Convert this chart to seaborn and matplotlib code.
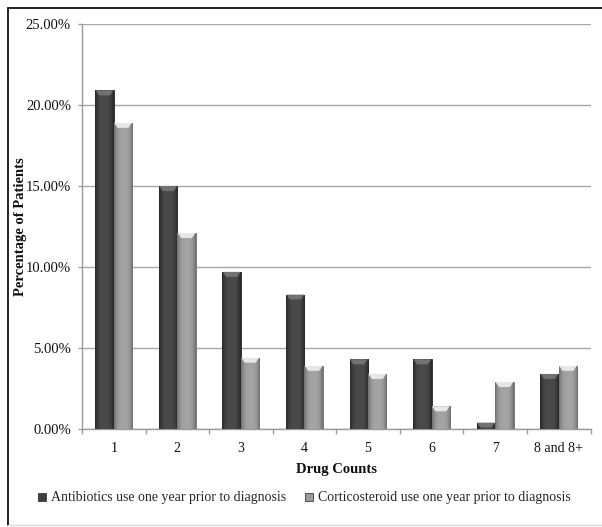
import numpy as np
import pandas as pd
import matplotlib
matplotlib.use("Agg")
import matplotlib.pyplot as plt
from matplotlib.colors import LinearSegmentedColormap
from matplotlib.patches import Polygon
from matplotlib.lines import Line2D
from matplotlib.ticker import FuncFormatter, MultipleLocator, FixedLocator
import seaborn as sns

categories = ["1", "2", "3", "4", "5", "6", "7", "8 and 8+"]
antibiotics = [20.9, 15.0, 9.7, 8.3, 4.3, 4.3, 0.4, 3.4]
corticosteroid = [18.9, 12.1, 4.4, 3.9, 3.4, 1.4, 2.9, 3.9]
series_names = ["Antibiotics use one year prior to diagnosis",
                "Corticosteroid use one year prior to diagnosis"]

df = pd.DataFrame({
    "Drug Counts": categories * 2,
    "value": antibiotics + corticosteroid,
    "series": [series_names[0]] * len(categories) + [series_names[1]] * len(categories),
})

sns.set_theme(style="white")
plt.rcParams["font.family"] = ["Liberation Serif", "DejaVu Serif"]

fig = plt.figure(figsize=(6.02, 5.27), dpi=100)
ax = fig.add_axes([82 / 602, 1 - 429 / 527, (590.5 - 82) / 602, (429 - 24) / 527])

base = {series_names[0]: "#3e3e3e", series_names[1]: "#9a9a9a"}
sns.barplot(data=df, x="Drug Counts", y="value", hue="series", order=categories,
            hue_order=series_names, palette=base, width=0.58, gap=0,
            saturation=1, ax=ax, legend=False, zorder=3, linewidth=0)

ax.set_ylim(0, 25)
ax.set_xlim(-0.5, len(categories) - 0.5)
ax.yaxis.set_major_locator(MultipleLocator(5))
ax.yaxis.set_major_formatter(FuncFormatter(lambda v, _: f"{v:.2f}%"))
ax.grid(axis="y", color="#a8a8a8", linewidth=1.0, zorder=0)
ax.grid(axis="x", visible=False)
ax.set_axisbelow(True)
for side in ["top", "right"]:
    ax.spines[side].set_visible(False)
for side in ["left", "bottom"]:
    ax.spines[side].set_color("#9a9a9a")
    ax.spines[side].set_linewidth(1.0)

# category separators as ticks on the x axis
ax.set_xticks(np.arange(len(categories)))
ax.set_xticklabels(categories)
ax.xaxis.set_minor_locator(FixedLocator(np.arange(-0.5, len(categories), 1)))
ax.tick_params(axis="x", which="major", length=0, pad=9, labelsize=10, colors="#111111")
ax.tick_params(axis="x", which="minor", bottom=True, length=3.5, width=1, color="#9a9a9a")
ax.tick_params(axis="y", left=True, length=3, width=1, color="#9a9a9a", pad=5,
               labelsize=10.5, colors="#111111")

ax.set_xlabel("Drug Counts", fontsize=10.5, fontweight="bold", labelpad=6, color="#111111")
ax.set_ylabel("Percentage of Patients", fontsize=10.5, fontweight="bold", color="#111111")
ax.yaxis.set_label_coords((27 - 82) / 508.5, 0.5)

# shaded cylinder look for every bar
shades = {
    "#3e3e3e": ("#262626", "#4a4a4a", "#7a7a7a"),
    "#9a9a9a": ("#6e6e6e", "#a4a4a4", "#f4f4f4"),
}
t = np.linspace(0, 1, 64)
profile = 1 - np.abs(2 * t - 1) ** 3
px_per_unit = (429 - 24) / 25
cap_h = 5 / px_per_unit
for patch in ax.patches:
    h = patch.get_height()
    if h <= 0:
        continue
    fc = matplotlib.colors.to_hex(patch.get_facecolor())
    edge_c, mid_c, cap_c = shades.get(fc, (fc, fc, "#ffffff"))
    cmap = LinearSegmentedColormap.from_list("bar", [edge_c, mid_c])
    x0, w = patch.get_x(), patch.get_width()
    im = ax.imshow(profile[np.newaxis, :], cmap=cmap, vmin=0, vmax=1, aspect="auto",
                   extent=[x0, x0 + w, 0, h], zorder=3.1, interpolation="bilinear")
    im.set_clip_path(patch)
    patch.set_edgecolor(edge_c)
    patch.set_linewidth(0.6)
    c = min(cap_h, h)
    cap = Polygon([[x0 + 0.02 * w, h], [x0 + 0.98 * w, h],
                   [x0 + 0.8 * w, h - c], [x0 + 0.2 * w, h - c]],
                  closed=True, facecolor=cap_c, edgecolor="none", alpha=0.85, zorder=3.2)
    ax.add_patch(cap)

ax.set_xlim(-0.5, len(categories) - 0.5)
ax.set_ylim(0, 25)

handles = [Line2D([0], [0], marker="s", linestyle="none", markersize=6,
                  markerfacecolor=base[n], markeredgecolor="#222222", markeredgewidth=0.5)
           for n in series_names]
fig.legend(handles, series_names, loc="center", bbox_to_anchor=(303 / 602, 1 - 498 / 527),
           ncol=2, frameon=False, fontsize=10, handletextpad=0.1, columnspacing=1.2,
           handlelength=1.0)

# outer frame
fig.add_artist(Line2D([7.5 / 602, 7.5 / 602], [1 - 7.5 / 527, 1 - 524.5 / 527],
                      transform=fig.transFigure, color="#111111", linewidth=1.3))
fig.add_artist(Line2D([7.5 / 602, 1], [1 - 7.5 / 527, 1 - 7.5 / 527],
                      transform=fig.transFigure, color="#111111", linewidth=1.3))
fig.add_artist(Line2D([7.5 / 602, 1], [1 - 524.5 / 527, 1 - 524.5 / 527],
                      transform=fig.transFigure, color="#d8d8d8", linewidth=1.0))

fig.savefig("out.png", dpi=100)
